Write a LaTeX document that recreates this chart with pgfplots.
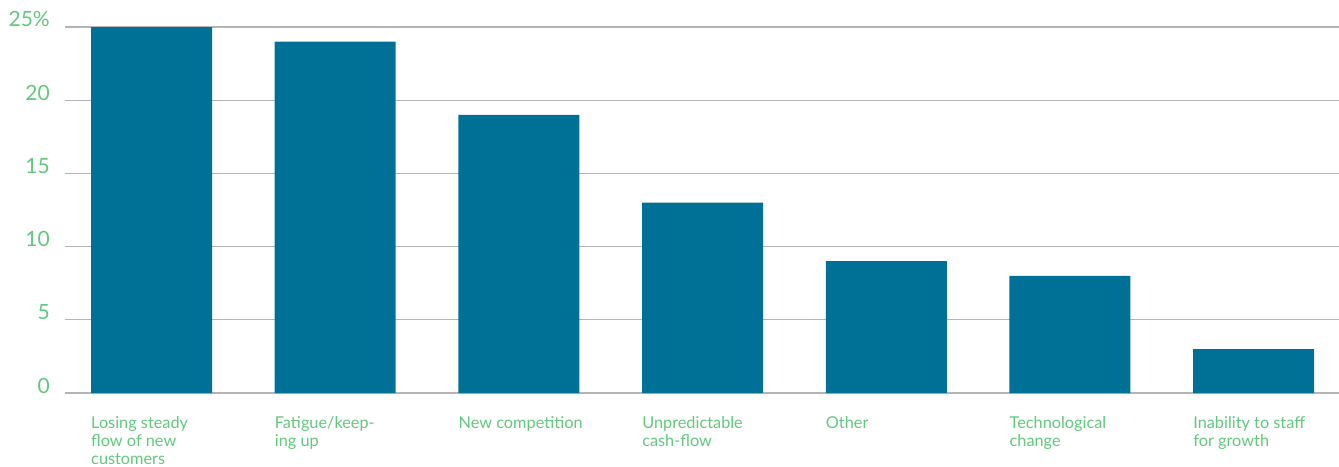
\documentclass[border=0pt]{standalone}
\usepackage{pgfplots}
\pgfplotsset{compat=1.18}
\usepackage{fontspec}
\setmainfont{Lato}
\definecolor{barblue}{RGB}{0,113,150}
\definecolor{labgreen}{RGB}{98,200,125}
\definecolor{gridgray}{RGB}{180,180,180}
\begin{document}
\begin{tikzpicture}[x=1pt,y=1pt]
\useasboundingbox (-65,-73) rectangle (1274,393);
\begin{axis}[
  at={(0,0)}, anchor=south west,
  scale only axis,
  width=1274pt, height=366pt,
  xmin=-0.471, xmax=6.465,
  ymin=0, ymax=25,
  ybar, bar width=121pt, bar shift=0pt,
  axis line style={draw=none},
  major tick length=0pt,
  ytick={0,5,10,15,20,25},
  yticklabels={0,5,10,15,20,25\%},
  ymajorgrids,
  grid style={draw=gridgray, line width=1.2pt},
  xtick={0,1,2,3,4,5,6},
  xticklabels={{Losing steady\\flow of new\\customers},{Fatigue/keep-\\ing up},{New competition},{Unpredictable\\cash-flow},{Other},{Technological\\change},{Inability to staff\\for growth}},
  xticklabel style={anchor=north west, align=left, inner sep=0pt, xshift=-60.5pt, yshift=-23.5pt, font=\fontsize{16.3}{18}\selectfont, text=labgreen},
  yticklabel style={anchor=base east, inner sep=0pt, xshift=-15pt, font=\fontsize{21}{24}\selectfont, text=labgreen},
]
\addplot[fill=barblue, draw=none] coordinates {(0,25) (1,24) (2,19) (3,13) (4,9) (5,8) (6,3)};
\end{axis}
\end{tikzpicture}
\end{document}
